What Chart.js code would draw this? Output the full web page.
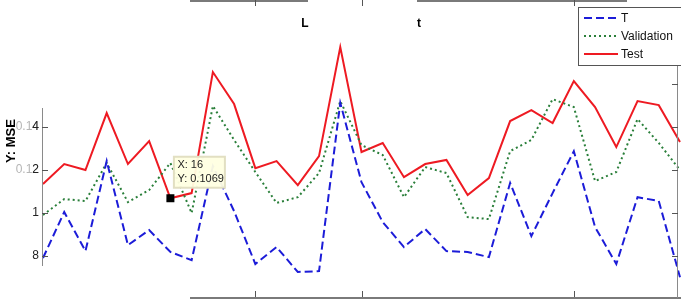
<!DOCTYPE html>
<html>
<head>
<meta charset="utf-8">
<script src="https://cdn.jsdelivr.net/npm/chart.js@4/dist/chart.umd.min.js"></script>
<style>
  html, body { margin: 0; padding: 0; background: #fff; }
  canvas { display: block; }
</style>
</head>
<body>
<canvas id="grafica" width="681" height="300"></canvas>
<script>
// =============================================
// DATOS
// =============================================

const iteraciones = [10, 11, 12, 13, 14, 15, 16, 17, 18, 19, 20, 21, 22, 23, 24, 25,
  26, 27, 28, 29, 30, 31, 32, 33, 34, 35, 36, 37, 38, 39, 40];

const errorEntrenamiento = [0.0791, 0.1005, 0.0823, 0.1242, 0.0851, 0.0921, 0.0819, 0.0781,
  0.1219, 0.1009, 0.0763, 0.0842, 0.0726, 0.0730, 0.1512, 0.1144, 0.0958, 0.0842, 0.0926,
  0.0823, 0.0819, 0.0795, 0.1140, 0.0893, 0.1093, 0.1288, 0.0935, 0.0763, 0.1074, 0.1056, 0.0702];

const errorValidacion = [0.0991, 0.1065, 0.1056, 0.1233, 0.1051, 0.1107, 0.1233, 0.1000,
  0.1498, 0.1340, 0.1191, 0.1047, 0.1074, 0.1186, 0.1521, 0.1316, 0.1270, 0.1074, 0.1214,
  0.1186, 0.0981, 0.0972, 0.1288, 0.1340, 0.1530, 0.1493, 0.1149, 0.1191, 0.1437, 0.1326, 0.1200];

const errorTest = [0.1135, 0.1228, 0.1200, 0.1465, 0.1228, 0.1335, 0.1069, 0.1093,
  0.1656, 0.1507, 0.1209, 0.1242, 0.1130, 0.1265, 0.1772, 0.1284, 0.1326, 0.1167, 0.1228,
  0.1247, 0.1084, 0.1163, 0.1428, 0.1479, 0.1419, 0.1614, 0.1493, 0.1307, 0.1521, 0.1502, 0.1330];

const nombresSeries = ["T", "Validation", "Test"];

// ticks del eje Y (los de la izquierda solo se ven a medias)
const ticksIzquierda = [0.08, 0.1, 0.12, 0.14];
const etiquetasIzquierda = ["8", "1", "0.12", "0.14"];
const ticksDerecha = [0.08, 0.1, 0.12, 0.14, 0.16, 0.18];
const ticksX = [20, 25, 30, 35];

const puntoMarcado = 16; // datatip sobre la curva de test

// =============================================
// DECORACION (ejes, textos, leyenda, datatip)
// =============================================

const FUENTE = "'Liberation Sans', Arial, sans-serif";

const decoracion = {
  id: "decoracion",
  afterDatasetsDraw(chart) {
    const ctx = chart.ctx;
    const x = chart.scales.x;
    const y = chart.scales.y;
    const px = (v) => x.getPixelForValue(iteraciones.indexOf(v));

    ctx.save();

    // bordes de los ejes
    ctx.strokeStyle = "#7a7a7a";
    ctx.lineWidth = 2;
    ctx.beginPath();
    ctx.moveTo(190, 1); ctx.lineTo(308, 1);
    ctx.moveTo(417, 1); ctx.lineTo(627, 1);
    ctx.moveTo(190, 298); ctx.lineTo(681, 298);
    ctx.stroke();

    ctx.lineWidth = 1;
    ctx.strokeStyle = "#8a8a8a";
    ctx.beginPath();
    ctx.moveTo(42.5, 108); ctx.lineTo(42.5, 266);
    ctx.moveTo(677.5, 42); ctx.lineTo(677.5, 298);
    ctx.stroke();

    // ticks
    ctx.strokeStyle = "#555";
    ctx.beginPath();
    ticksIzquierda.forEach((t) => {
      const py = Math.round(y.getPixelForValue(t)) + 0.5;
      ctx.moveTo(42, py); ctx.lineTo(48, py);
    });
    ticksDerecha.forEach((t) => {
      const py = Math.round(y.getPixelForValue(t)) + 0.5;
      ctx.moveTo(678, py); ctx.lineTo(672, py);
    });
    ticksX.forEach((t) => {
      const pxx = Math.round(px(t)) + 0.5;
      if (t === 30) return;
      ctx.moveTo(pxx, 297); ctx.lineTo(pxx, 291);
      ctx.moveTo(pxx, 0); ctx.lineTo(pxx, 6);
    });
    ctx.stroke();

    // etiquetas eje Y: lo borrado en gris claro, la ultima cifra oscura
    ctx.font = "12px " + FUENTE;
    ctx.textAlign = "right";
    ctx.textBaseline = "middle";
    ticksIzquierda.forEach((t, i) => {
      const texto = etiquetasIzquierda[i];
      const py = y.getPixelForValue(t);
      if (texto.length > 1) {
        ctx.fillStyle = "#b5b5b5";
        ctx.fillText(texto, 39, py);
      }
      ctx.fillStyle = "#222";
      ctx.fillText(texto.slice(-1), 39, py);
    });

    // titulo del eje Y
    ctx.save();
    ctx.translate(11, 141);
    ctx.rotate(-Math.PI / 2);
    ctx.textAlign = "center";
    ctx.fillStyle = "#000";
    ctx.font = "bold 13px " + FUENTE;
    ctx.fillText("Y: MSE", 0, 0);
    ctx.restore();

    // restos del titulo
    ctx.font = "bold 12px " + FUENTE;
    ctx.textAlign = "center";
    ctx.fillStyle = "#000";
    ctx.fillText("L", 305, 24);
    ctx.fillText("t", 419, 24);

    // leyenda
    ctx.fillStyle = "#fff";
    ctx.fillRect(578, 7, 110, 58);
    ctx.strokeStyle = "#555";
    ctx.lineWidth = 1;
    ctx.strokeRect(578.5, 7.5, 110, 58);
    ctx.textAlign = "left";
    ctx.font = "12px " + FUENTE;
    chart.data.datasets.forEach((ds, i) => {
      const ly = 18 + i * 18;
      ctx.strokeStyle = ds.borderColor;
      ctx.lineWidth = 2;
      ctx.setLineDash(ds.borderDash || []);
      ctx.beginPath();
      ctx.moveTo(584, ly); ctx.lineTo(618, ly);
      ctx.stroke();
      ctx.setLineDash([]);
      ctx.fillStyle = "#111";
      ctx.fillText(ds.label, 621, ly + 1);
    });

    // datatip
    const idx = iteraciones.indexOf(puntoMarcado);
    const punto = chart.getDatasetMeta(2).data[idx];
    ctx.fillStyle = "#000";
    ctx.fillRect(punto.x - 4, punto.y - 4, 8, 8);
    const bx = punto.x + 3, by = punto.y - 42;
    ctx.fillStyle = "rgba(255,255,225,0.95)";
    ctx.fillRect(bx, by, 51, 31);
    ctx.strokeStyle = "#e2dfc2";
    ctx.strokeRect(bx + 0.5, by + 0.5, 51, 31);
    ctx.fillStyle = "#222";
    ctx.font = "11px " + FUENTE;
    ctx.textBaseline = "middle";
    ctx.fillText("X: " + puntoMarcado, bx + 4, by + 9);
    ctx.fillText("Y: " + errorTest[idx].toFixed(4), bx + 4, by + 23);

    ctx.restore();
  },
};

// =============================================
// GRAFICA
// =============================================

function inicializarGrafica() {
  const ctx = document.getElementById("grafica").getContext("2d");
  new Chart(ctx, {
    type: "line",
    data: {
      labels: iteraciones,
      datasets: [
        {
          label: nombresSeries[0],
          data: errorEntrenamiento,
          borderColor: "#1c1cd8",
          borderDash: [8, 4],
          borderWidth: 2,
        },
        {
          label: nombresSeries[1],
          data: errorValidacion,
          borderColor: "#2a7f3a",
          borderDash: [2, 3],
          borderWidth: 2,
        },
        {
          label: nombresSeries[2],
          data: errorTest,
          borderColor: "#ee1a22",
          borderWidth: 2,
        },
      ],
    },
    options: {
      responsive: false,
      animation: false,
      layout: { padding: { left: 43, right: 1, top: 0, bottom: 2 } },
      elements: { point: { radius: 0 }, line: { tension: 0, fill: false } },
      scales: {
        x: { display: false, offset: false },
        y: { display: false, min: 0.0605, max: 0.1991 },
      },
      plugins: { legend: { display: false }, tooltip: { enabled: false } },
    },
    plugins: [decoracion],
  });
}

document.addEventListener("DOMContentLoaded", inicializarGrafica);
</script>
</body>
</html>
